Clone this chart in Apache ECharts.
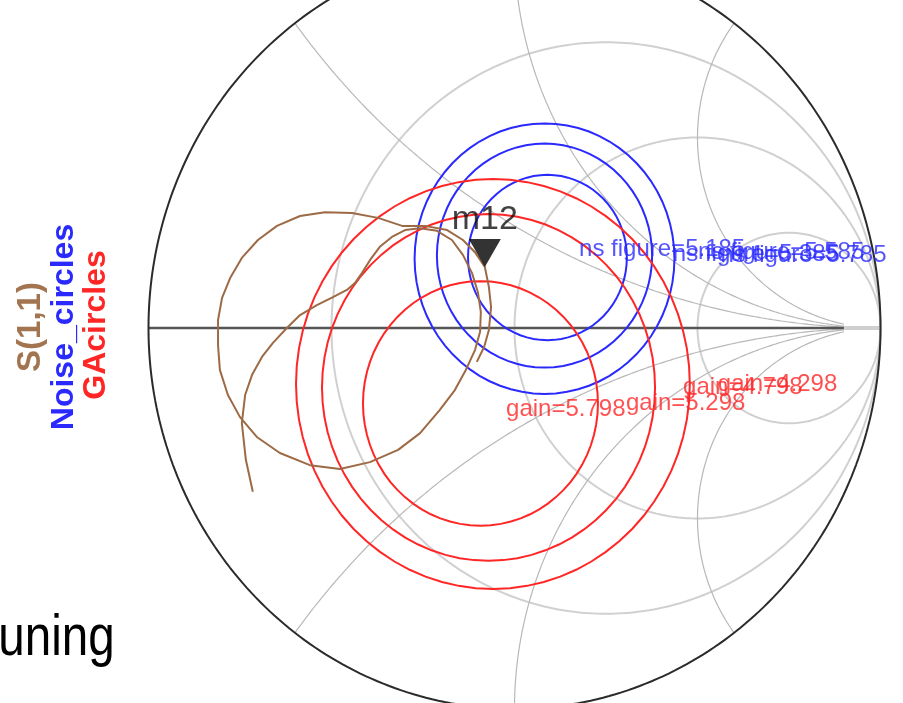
<!DOCTYPE html>
<html>
<head>
<meta charset="utf-8">
<script src="https://cdn.jsdelivr.net/npm/echarts@6/dist/echarts.min.js"></script>
<style>
  html, body { margin: 0; padding: 0; background: #ffffff; }
  #chart { width: 903px; height: 703px; }
</style>
</head>
<body>
<div id="chart"></div>
<script>
// Smith chart grid: constant-resistance circles and constant-reactance arcs
const resistanceCircles = [1 / 3, 1, 3];
const reactanceArcs = [0.5, 1, 2, -0.5, -1, -2];
const reactanceEnd = 19; // reactance arcs stop on this resistance circle

// Noise-figure circles (reflection-coefficient plane): centre u, centre v, radius
const noiseLabels = ['ns figure=5.185', 'ns figure=5.385', 'ns figure=5.585', 'ns figure=5.785'];
const noiseCenterU = [0.089, 0.090, 0.082, 0.082];
const noiseCenterV = [0.199, 0.185, 0.190, 0.182];
const noiseRadius = [0, 0.217, 0.294, 0.355];

// Available-gain circles
const gainLabels = ['gain=5.798', 'gain=5.298', 'gain=4.798', 'gain=4.298'];
const gainCenterU = [-0.105, -0.093, -0.071, -0.059];
const gainCenterV = [-0.213, -0.198, -0.156, -0.147];
const gainRadius = [0, 0.321, 0.455, 0.538];

// S(1,1) trace, real and imaginary parts
const s11Re = [-0.715, -0.734, -0.745, -0.736, -0.717, -0.690, -0.660, -0.622, -0.586, -0.540, -0.496, -0.458, -0.436, -0.417, -0.395, -0.368, -0.335, -0.299, -0.258, -0.212,
               -0.171, -0.141, -0.116, -0.100, -0.092, -0.094, -0.108, -0.133, -0.163, -0.204, -0.258, -0.318, -0.395, -0.477, -0.559, -0.641, -0.704, -0.750, -0.783, -0.805,
               -0.810, -0.810, -0.799, -0.777, -0.745, -0.701, -0.649, -0.586, -0.518, -0.444, -0.373, -0.307, -0.245, -0.184, -0.141, -0.108, -0.081, -0.070, -0.064, -0.070,
               -0.083, -0.103];
const s11Im = [-0.430, -0.346, -0.249, -0.176, -0.123, -0.076, -0.039, 0.000, 0.034, 0.060, 0.081, 0.100, 0.118, 0.144, 0.178, 0.213, 0.239, 0.257, 0.262, 0.255,
               0.231, 0.192, 0.144, 0.094, 0.042, -0.010, -0.058, -0.110, -0.163, -0.215, -0.276, -0.320, -0.352, -0.370, -0.360, -0.328, -0.286, -0.234, -0.176, -0.110,
               -0.045, 0.021, 0.079, 0.131, 0.184, 0.231, 0.268, 0.294, 0.304, 0.302, 0.289, 0.268, 0.268, 0.257, 0.231, 0.199, 0.160, 0.108, 0.055, -0.005,
               -0.050, -0.089];

// Marker m12 on the trace
const markerName = 'm12';
const markerIndex = 56;

// visible part of the reflection-coefficient plane
const uRange = [-1, 1];
const vRange = [-0.9843, 0.8609];

const R_GREY = '#d0d0d0';
const X_GREY = '#b8b8b8';
const BLUE = '#2a2aff';
const RED = '#ff2626';
const BROWN = '#9d6a45';
const FONT = '"Liberation Sans", Arial, sans-serif';

// z = r + jx  ->  reflection coefficient
function gammaOf(r, x) {
  const d = (r + 1) * (r + 1) + x * x;
  return [(r * r + x * x - 1) / d, (2 * x) / d];
}

function resistancePath(r) {
  const pts = [];
  const c = r / (1 + r), rad = 1 / (1 + r);
  for (let i = 0; i <= 360; i++) {
    const t = (i / 360) * 2 * Math.PI;
    pts.push([c + rad * Math.cos(t), rad * Math.sin(t)]);
  }
  return pts;
}

function reactancePath(x) {
  const pts = [];
  for (let i = 0; i <= 400; i++) {
    const r = Math.pow(i / 400, 3) * reactanceEnd;
    pts.push(gammaOf(r, x));
  }
  return pts;
}

function gridLine(data, color, width, z) {
  return {
    type: 'line', silent: true, symbol: 'none', clip: false, z: z,
    data: data, lineStyle: { color: color, width: width }
  };
}

const series = [];

resistanceCircles.forEach(function (r) { series.push(gridLine(resistancePath(r), R_GREY, 2, 1)); });
reactanceArcs.forEach(function (x) { series.push(gridLine(reactancePath(x), X_GREY, 1.2, 1)); });
series.push(gridLine([gammaOf(reactanceEnd, 0), [1, 0]], '#cfcfcf', 4, 1));
series.push(gridLine([[-1, 0], gammaOf(reactanceEnd, 0)], '#555555', 2.5, 2));
series.push(gridLine(resistancePath(0), '#2b2b2b', 2, 2));

// circle families drawn through the axis scales
function circleSeries(cu, cv, rad, color) {
  const data = [];
  for (let i = 0; i < cu.length; i++) {
    if (rad[i] > 0) data.push([cu[i], cv[i], rad[i]]);
  }
  return {
    type: 'custom', silent: true, clip: false, z: 3,
    data: data,
    renderItem: function (params, api) {
      const u = api.value(0), v = api.value(1), rr = api.value(2);
      const pts = [];
      for (let k = 0; k <= 72; k++) {
        const t = (k / 72) * 2 * Math.PI;
        pts.push(api.coord([u + rr * Math.cos(t), v + rr * Math.sin(t)]));
      }
      return {
        type: 'polyline',
        shape: { points: pts },
        style: { stroke: color, lineWidth: 2, fill: null }
      };
    }
  };
}
series.push(circleSeries(noiseCenterU, noiseCenterV, noiseRadius, BLUE));
series.push(circleSeries(gainCenterU, gainCenterV, gainRadius, RED));

// centre points of both families
function centreSeries(u, v, color) {
  return {
    type: 'scatter', silent: true, clip: false, z: 4,
    symbol: 'emptyCircle', symbolSize: 9,
    data: [[u, v]],
    itemStyle: { color: '#ffffff', borderColor: color, borderWidth: 2 }
  };
}
series.push(centreSeries(noiseCenterU[0], noiseCenterV[0], BLUE));
series.push(centreSeries(gainCenterU[0], gainCenterV[0], RED));

// circle labels: the centre label sits beside its point, the others right of their circle
function labelSeries(cu, cv, rad, texts, color, dxCentre, dxRing, dy) {
  const data = [];
  for (let i = 0; i < cu.length; i++) {
    data.push({
      value: [cu[i] + rad[i], cv[i]], name: texts[i],
      label: { offset: [rad[i] > 0 ? dxRing : dxCentre, dy] }
    });
  }
  return {
    type: 'scatter', silent: true, clip: false, z: 6,
    symbolSize: 0,
    data: data,
    label: {
      show: true, position: 'right', distance: 0,
      formatter: function (p) { return p.name; },
      color: color, fontSize: 24, fontFamily: FONT
    }
  };
}
series.push(labelSeries(noiseCenterU, noiseCenterV, noiseRadius, noiseLabels, BLUE, 32, 46, -3));
series.push(labelSeries(gainCenterU, gainCenterV, gainRadius, gainLabels, RED, 30, 28, 0));

// S(1,1) trace
const s11 = s11Re.map(function (re, i) { return [re, s11Im[i]]; });
series.push({
  type: 'line', silent: true, symbol: 'none', clip: false, z: 5,
  data: s11,
  lineStyle: { color: BROWN, width: 2 }
});

// marker
series.push({
  type: 'scatter', silent: true, clip: false, z: 7,
  symbol: 'triangle', symbolRotate: 180, symbolSize: [32, 28], symbolOffset: [0, -14],
  data: [s11[markerIndex]],
  itemStyle: { color: '#000000' },
  label: {
    show: true, formatter: markerName, position: 'top', distance: 2,
    color: '#111111', fontSize: 34, fontFamily: FONT
  }
});

const chart = echarts.init(document.getElementById('chart'), null, { renderer: 'canvas' });
chart.setOption({
  animation: false,
  backgroundColor: '#ffffff',
  grid: { left: 148.5, top: 0, width: 732, height: 703 },
  xAxis: { type: 'value', min: uRange[0], max: uRange[1], show: false },
  yAxis: { type: 'value', min: vRange[0], max: vRange[1], show: false },
  series: series,
  graphic: [
    {
      type: 'text', x: 31, y: 327, rotation: Math.PI / 2,
      style: { text: 'S(1,1)', fill: '#a27550', font: 'bold 33px ' + FONT, align: 'center', verticalAlign: 'middle' }
    },
    {
      type: 'text', x: 64, y: 327, rotation: Math.PI / 2,
      style: { text: 'Noise_circles', fill: BLUE, font: 'bold 32px ' + FONT, align: 'center', verticalAlign: 'middle' }
    },
    {
      type: 'text', x: 96, y: 325, rotation: Math.PI / 2,
      style: { text: 'GAcircles', fill: RED, font: 'bold 32px ' + FONT, align: 'center', verticalAlign: 'middle' }
    },
    {
      type: 'text', x: -29, y: 610, scaleX: 0.82,
      style: { text: 'Tuning', fill: '#000000', font: '58px ' + FONT, verticalAlign: 'alphabetic' }
    }
  ]
});
</script>
</body>
</html>
